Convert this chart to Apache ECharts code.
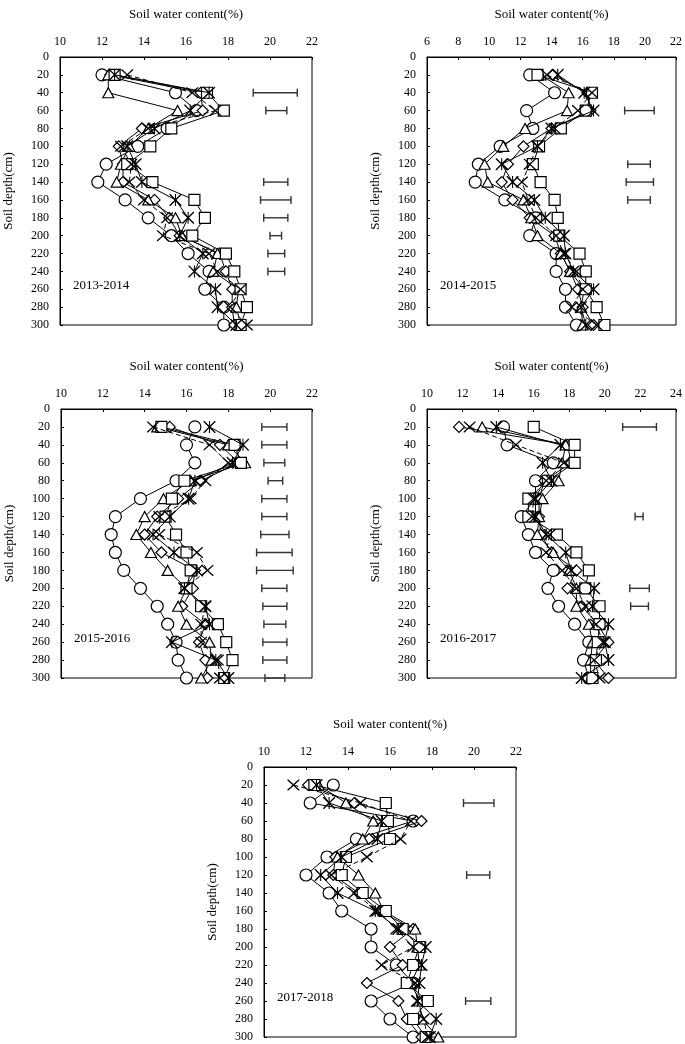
<!DOCTYPE html>
<html>
<head>
<meta charset="utf-8">
<title>Soil water content profiles</title>
<script src="https://cdn.jsdelivr.net/npm/echarts@6/dist/echarts.min.js"></script>
<style>
  html, body { margin: 0; padding: 0; background: #fff; }
  #chart { width: 685px; height: 1044px; }
</style>
</head>
<body>
<div id="chart"></div>
<script>
// depth of every sample (cm)
const depths = [20, 40, 60, 80, 100, 120, 140, 160, 180, 200, 220, 240, 260, 280, 300];
const seasons = ['2013-2014', '2014-2015', '2015-2016', '2016-2017', '2017-2018'];
const xMins = [10, 6, 10, 10, 10];
const xMaxs = [22, 22, 22, 24, 22];

// 2013-2014
const circle1   = [12.0, 15.5, 16.5, 15.1, 13.7, 12.2, 11.8, 13.1, 14.2, 15.3, 16.1, 17.1, 16.9, 17.8, 17.8];
const diamond1  = [12.4, 16.7, 16.8, 13.9, 12.8, 13.0, 13.0, 14.5, 15.2, 15.7, 17.6, 17.9, 18.2, 18.2, 18.3];
const triangle1 = [12.3, 12.3, 15.6, 14.2, 13.3, 12.9, 12.7, 14.2, 15.5, 15.8, 17.5, 17.3, 18.5, 18.4, 18.6];
const square1   = [12.6, 17.0, 17.8, 15.3, 14.3, 13.2, 14.4, 16.4, 16.9, 16.3, 17.9, 18.3, 18.6, 18.9, 18.6];
const cross1    = [13.2, 16.3, 17.4, 14.2, 12.9, 13.4, 13.3, 14.0, 15.1, 14.9, 17.1, 17.5, 18.6, 18.1, 18.9];
const star1     = [12.6, 17.1, 16.2, 14.5, 13.2, 13.6, 13.9, 15.5, 16.1, 15.7, 16.8, 16.4, 17.4, 17.5, 18.4];
const errDepth1 = [40, 60, 140, 160, 180, 200, 220, 240];
const errLow1   = [19.2, 19.8, 19.7, 19.55, 19.7, 20.0, 19.9, 19.9];
const errHigh1  = [21.3, 20.8, 20.85, 21.0, 20.85, 20.55, 20.7, 20.7];

// 2014-2015
const circle2   = [12.6, 14.2, 12.4, 12.8, 10.7, 9.3, 9.1, 11.0, 13.0, 12.6, 14.3, 14.3, 14.9, 14.9, 15.6];
const diamond2  = [14.1, 16.3, 16.5, 14.0, 12.2, 11.2, 10.8, 11.5, 12.6, 14.2, 14.6, 15.2, 15.7, 16.0, 16.7];
const triangle2 = [13.3, 15.1, 15.0, 12.3, 10.9, 9.7, 9.9, 12.2, 12.7, 13.1, 14.6, 15.2, 16.1, 15.9, 16.0];
const square2   = [13.1, 16.6, 16.2, 14.6, 13.2, 12.8, 13.3, 14.2, 14.4, 14.5, 15.8, 16.2, 16.2, 16.9, 17.4];
const cross2    = [13.7, 16.6, 15.7, 14.2, 13.1, 12.6, 12.1, 12.5, 13.0, 14.3, 14.8, 15.6, 16.0, 15.3, 16.9];
const star2     = [14.4, 16.1, 16.7, 14.0, 13.1, 10.8, 11.5, 12.9, 13.6, 14.8, 14.9, 15.4, 16.7, 15.9, 16.2];
const errDepth2 = [60, 120, 140, 160];
const errLow2   = [18.7, 18.9, 18.8, 18.9];
const errHigh2  = [20.6, 20.35, 20.55, 20.35];

// 2015-2016
const circle3   = [16.4, 16.0, 16.4, 15.5, 13.8, 12.6, 12.4, 12.6, 13.0, 13.8, 14.6, 15.1, 15.5, 15.6, 16.0];
const diamond3  = [15.2, 17.6, 18.5, 16.7, 15.6, 14.6, 14.0, 14.8, 16.4, 16.3, 15.8, 16.9, 16.6, 16.9, 17.0];
const triangle3 = [14.6, 18.0, 18.8, 16.2, 14.9, 14.0, 13.6, 14.3, 15.1, 16.0, 15.6, 16.0, 17.1, 17.2, 16.7];
const square3   = [14.8, 18.3, 18.6, 15.9, 15.3, 15.0, 15.5, 16.0, 16.2, 16.0, 16.7, 17.5, 17.9, 18.2, 17.8];
const cross3    = [14.4, 17.1, 18.0, 16.9, 16.2, 14.7, 14.7, 16.5, 17.0, 15.9, 16.9, 16.7, 16.7, 17.5, 17.6];
const star3     = [17.1, 18.7, 18.2, 16.4, 16.1, 15.2, 14.4, 15.4, 16.5, 15.9, 16.9, 17.1, 15.3, 17.4, 18.0];
const errDepth3 = [20, 40, 60, 80, 100, 120, 140, 160, 180, 200, 220, 240, 260, 280, 300];
const errLow3   = [19.6, 19.6, 19.7, 19.9, 19.6, 19.6, 19.55, 19.35, 19.35, 19.6, 19.65, 19.7, 19.65, 19.65, 19.75];
const errHigh3  = [20.8, 20.8, 20.7, 20.6, 20.8, 20.8, 20.9, 21.05, 21.1, 20.8, 20.8, 20.75, 20.8, 20.8, 20.7];

// 2016-2017
const circle4   = [14.3, 14.5, 17.1, 16.1, 16.1, 15.3, 15.7, 16.1, 17.1, 16.8, 17.4, 18.3, 19.1, 18.8, 19.1];
const diamond4  = [11.8, 17.9, 18.1, 16.6, 16.3, 16.3, 16.4, 17.0, 18.4, 17.9, 18.7, 19.6, 20.2, 19.4, 20.2];
const triangle4 = [13.1, 17.8, 17.6, 17.4, 16.5, 16.3, 16.2, 17.1, 18.0, 18.4, 18.4, 19.1, 19.3, 19.2, 19.2];
const square4   = [16.0, 18.3, 18.3, 16.8, 15.7, 15.7, 17.3, 18.4, 19.1, 18.9, 19.7, 19.7, 19.6, 19.5, 19.3];
const cross4    = [12.4, 15.0, 17.7, 16.7, 16.0, 15.9, 16.9, 16.7, 17.6, 18.4, 18.9, 19.5, 19.9, 19.4, 19.7];
const star4     = [13.9, 17.5, 16.5, 17.0, 16.1, 16.1, 16.7, 17.8, 18.1, 19.4, 19.3, 20.2, 20.0, 20.2, 18.7];
const errDepth4 = [20, 120, 200, 220];
const errLow4   = [21.0, 21.7, 21.4, 21.45];
const errHigh4  = [22.9, 22.15, 22.5, 22.45];

// 2017-2018
const circle5   = [13.3, 12.2, 17.1, 14.4, 13.0, 12.0, 13.1, 13.7, 15.1, 15.1, 16.3, 17.1, 15.1, 16.0, 17.1];
const diamond5  = [12.1, 14.3, 17.5, 15.0, 13.4, 13.3, 14.5, 15.5, 17.1, 16.0, 16.6, 14.9, 16.4, 16.8, 17.5];
const triangle5 = [12.6, 13.9, 15.2, 14.7, 13.5, 14.5, 15.3, 15.7, 17.2, 17.3, 17.4, 17.0, 17.4, 17.5, 18.3];
const square5   = [12.4, 15.8, 15.9, 16.0, 13.9, 13.7, 14.7, 15.8, 16.6, 17.4, 17.1, 16.8, 17.8, 17.1, 17.7];
const cross5    = [11.4, 14.6, 17.0, 16.5, 14.9, 13.2, 14.3, 15.4, 16.3, 17.1, 15.6, 17.2, 17.3, 17.6, 17.8];
const star5     = [12.5, 13.1, 15.6, 15.4, 13.7, 12.7, 13.5, 15.3, 16.4, 17.7, 17.5, 17.4, 17.3, 18.2, 17.9];
const errDepth5 = [40, 120, 260];
const errLow5   = [19.5, 19.65, 19.6];
const errHigh5  = [20.95, 20.75, 20.8];

const panelSeries = [
  [circle1, diamond1, triangle1, square1, cross1, star1],
  [circle2, diamond2, triangle2, square2, cross2, star2],
  [circle3, diamond3, triangle3, square3, cross3, star3],
  [circle4, diamond4, triangle4, square4, cross4, star4],
  [circle5, diamond5, triangle5, square5, cross5, star5]
];
const panelErrors = [
  [errDepth1, errLow1, errHigh1],
  [errDepth2, errLow2, errHigh2],
  [errDepth3, errLow3, errHigh3],
  [errDepth4, errLow4, errHigh4],
  [errDepth5, errLow5, errHigh5]
];

// pixel boxes of the five plots
const boxes = [
  { left: 60,  top: 57,  width: 252, height: 268 },
  { left: 427, top: 57,  width: 252, height: 268 },
  { left: 61,  top: 409, width: 251, height: 269 },
  { left: 427, top: 409, width: 253, height: 269 },
  { left: 264, top: 767, width: 252, height: 270 }
];

// thin X and asterisk glyphs (filled outlines)
const crossPath = 'path://M0,0L0.8,0L5,4.2L9.2,0L10,0L10,0.8L5.8,5L10,9.2L10,10L9.2,10L5,5.8L0.8,10L0,10L0,9.2L4.2,5L0,0.8Z';
const starPath = crossPath + 'M4.55,0L5.45,0L5.45,10L4.55,10Z';

const markers = [
  { symbol: 'circle',   size: 12,       fill: '#fff', dash: 'solid' },
  { symbol: 'diamond',  size: [11, 11], fill: '#fff', dash: 'solid' },
  { symbol: 'triangle', size: [11, 10], fill: '#fff', dash: 'solid' },
  { symbol: 'rect',     size: 11,       fill: '#fff', dash: 'solid' },
  { symbol: crossPath,  size: [12, 11], fill: '#000', dash: [5, 3] },
  { symbol: starPath,   size: 12,       fill: '#000', dash: 'solid' }
];

const font = 'Liberation Serif';
const grid = [], xAxis = [], yAxis = [], series = [], graphic = [];

boxes.forEach((b, i) => {
  grid.push(Object.assign({ show: true, borderColor: '#000', borderWidth: 1, backgroundColor: 'transparent' }, b));
  xAxis.push({
    gridIndex: i, type: 'value', position: 'top',
    min: xMins[i], max: xMaxs[i], interval: 2,
    name: 'Soil water content(%)', nameLocation: 'middle', nameGap: 36,
    nameTextStyle: { fontFamily: font, fontSize: 13, color: '#000' },
    axisLine: { lineStyle: { color: '#000' } },
    axisTick: { inside: true, length: 3, lineStyle: { color: '#000' } },
    axisLabel: { fontFamily: font, fontSize: 12, color: '#000', margin: 9 },
    splitLine: { show: false }
  });
  yAxis.push({
    gridIndex: i, type: 'value', inverse: true,
    min: 0, max: 300, interval: 20,
    name: 'Soil depth(cm)', nameLocation: 'middle', nameGap: 45,
    nameTextStyle: { fontFamily: font, fontSize: 13, color: '#000' },
    axisLine: { lineStyle: { color: '#000' } },
    axisTick: { inside: true, length: 3, lineStyle: { color: '#000' } },
    axisLabel: { fontFamily: font, fontSize: 12, color: '#000', margin: 11 },
    splitLine: { show: false }
  });

  const err = panelErrors[i];
  series.push({
    type: 'custom', xAxisIndex: i, yAxisIndex: i, silent: true, z: 1,
    data: err[0].map((d, k) => [err[1][k], err[2][k], d]),
    renderItem: (params, api) => {
      const p1 = api.coord([api.value(0), api.value(2)]);
      const p2 = api.coord([api.value(1), api.value(2)]);
      const h = 4;
      const style = { stroke: '#333', lineWidth: 1.4 };
      return {
        type: 'group',
        children: [
          { type: 'line', shape: { x1: p1[0], y1: p1[1], x2: p2[0], y2: p2[1] }, style },
          { type: 'line', shape: { x1: p1[0], y1: p1[1] - h, x2: p1[0], y2: p1[1] + h }, style },
          { type: 'line', shape: { x1: p2[0], y1: p2[1] - h, x2: p2[0], y2: p2[1] + h }, style }
        ]
      };
    }
  });

  panelSeries[i].forEach((vals, s) => {
    const m = markers[s];
    series.push({
      type: 'line', xAxisIndex: i, yAxisIndex: i, z: 2 + s,
      data: vals.map((v, k) => [v, depths[k]]),
      symbol: m.symbol, symbolSize: m.size, showAllSymbol: true,
      lineStyle: { color: '#000', width: 1, type: m.dash },
      itemStyle: { color: m.fill, borderColor: '#000', borderWidth: m.fill === '#000' ? 0 : 1.2 },
      animation: false
    });
  });

  graphic.push({
    type: 'text', left: b.left + 13, top: b.top + b.height - 46,
    style: { text: seasons[i], font: '13px "' + font + '"', fill: '#000' }
  });
});

const chart = echarts.init(document.getElementById('chart'));
chart.setOption({ animation: false, grid, xAxis, yAxis, series, graphic });
</script>
</body>
</html>
